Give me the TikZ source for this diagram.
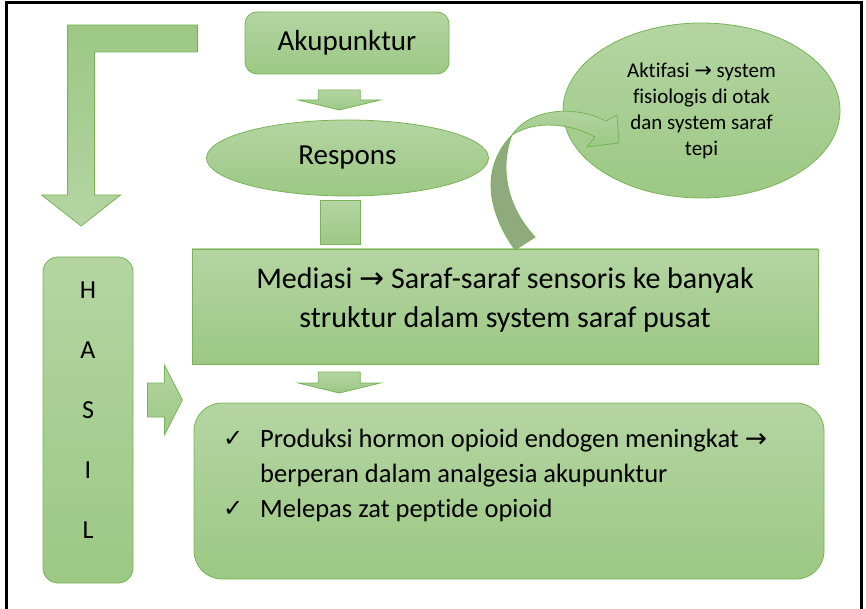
\documentclass[tikz,border=0pt]{standalone}
\usepackage{fontspec}
\setmainfont{Carlito}[Ligatures=NoCommon]
\newfontfamily\symfont{DejaVu Sans}
\usetikzlibrary{shapes.geometric,calc}

\definecolor{gtop}{HTML}{B4D5A2}
\definecolor{gbot}{HTML}{9CC884}
\definecolor{gline}{HTML}{78B456}
\definecolor{gdark}{HTML}{8FAB7E}

\tikzset{
  greenfill/.style={draw=gline, line width=0.8pt, top color=gtop, bottom color=gbot},
  greenflip/.style={draw=gline, line width=0.8pt, top color=gbot, bottom color=gtop},
  plaintext/.style={inner sep=0pt},
}
\newcommand{\rarr}{{\symfont →}}

\begin{document}
\begin{tikzpicture}[x=1pt,y=-1pt]
    \useasboundingbox (0,0) rectangle (866,609);

    % the frame round the page
    \draw[line width=3pt] (6,609) -- (6,3) -- (861,3) -- (861,609);

    % the boxes
    \node[greenfill, rounded corners=12pt, minimum width=204pt, minimum height=62pt,
          font=\fontsize{29}{35}\selectfont] (aku) at (347,43) {Akupunktur};
    \node[greenfill, ellipse, inner sep=0pt, minimum width=282pt, minimum height=76pt,
          font=\fontsize{29}{35}\selectfont] (resp) at (347.5,158) {Respons};
    \node[greenfill, ellipse, inner sep=0pt, minimum width=277pt, minimum height=175pt,
          align=center, font=\fontsize{21}{26}\selectfont] (akt) at (701.5,110.5)
          {Aktifasi \rarr{} system\\fisiologis di otak\\dan system saraf\\tepi};
    \node[greenfill, inner sep=0pt, minimum width=626pt, minimum height=115pt] (med) at (505,306.5) {};
    \node[plaintext, align=center, font=\fontsize{30}{39}\selectfont] (medtext) at (505,300)
          {Mediasi \rarr{} Saraf-saraf sensoris ke banyak\\struktur dalam system saraf pusat};
    \node[greenfill, rounded corners=15pt, inner sep=0pt, minimum width=90pt, minimum height=326pt] (hasil) at (88,420) {};
    \node[plaintext, align=center, font=\fontsize{26}{60}\selectfont] (hasiltext) at (88,410) {H\\A\\S\\I\\L};
    \node[greenfill, rounded corners=28pt, inner sep=0pt, minimum width=630pt, minimum height=176pt] (res) at (509,491) {};

    % the list in the result box
    \node[plaintext, anchor=base west, font=\symfont\fontsize{24}{28}\selectfont] (check1) at (223,446) {✓};
    \node[plaintext, anchor=base west, font=\fontsize{26.5}{32}\selectfont] (prod1) at (260,447)
          {Produksi hormon opioid endogen meningkat \rarr};
    \node[plaintext, anchor=base west, font=\fontsize{26.5}{32}\selectfont] (prod2) at (260,482)
          {berperan dalam analgesia akupunktur};
    \node[plaintext, anchor=base west, font=\symfont\fontsize{24}{28}\selectfont] (check2) at (223,516) {✓};
    \node[plaintext, anchor=base west, font=\fontsize{26.5}{32}\selectfont] (lepas) at (260,517)
          {Melepas zat peptide opioid};

    % block arrows between the boxes
    \coordinate (a1) at ($(aku.south)!0.5!(resp.north)$);
    \coordinate (m2) at ($(med.south)!0.5!(res.north)$);
    \coordinate (a2) at (a1 |- m2);
    \shade[greenfill] (a1) ++(-29,-7) -- ++(42,0) -- ++(0,10) -- ++(20,0) -- ++(-41,10)
          -- ++(-41,-10) -- ++(20,0) -- cycle;
    \shade[greenfill] (a2) ++(-29,-11.5) -- ++(42,0) -- ++(0,11) -- ++(20,0) -- ++(-41,10)
          -- ++(-41,-10) -- ++(20,0) -- cycle;
    \shade[greenfill] ($(resp.south)+(-27,4)$) rectangle ($(resp.south |- med.north)+(13,-4)$);

    \coordinate (a3) at ($(hasil.east)+(14,-20)$);
    \shade[greenfill] (a3) ++(0,-17) -- ++(17,0) -- ++(0,-18) -- ++(18,35) -- ++(-18,35)
          -- ++(0,-18) -- ++(-17,0) -- cycle;

    % bent arrow from the top down to HASIL
    \coordinate (lstart) at ($(aku.west)+(-47,-4.5)$);
    \shade[greenflip] (lstart) ++(0,-13.5) -- ++(-130,0) -- ++(0,170) -- ++(-26,0) -- ++(39.5,31)
          -- ++(39.5,-31) -- ++(-26,0) -- ++(0,-143) -- ++(103,0) -- cycle;

    % curved arrow from Mediasi to Aktifasi
    \filldraw[fill=gdark, draw=gline, line width=0.8pt] (515,250) .. controls (490,215) and (478,170) .. (512,135)
          .. controls (500,165) and (505,205) .. (535,237) -- cycle;
    \shade[greenfill] (512,135) .. controls (530,108) and (575,105) .. (606,121) -- (617,115) -- (619,143)
          -- (587,147) -- (595,137) .. controls (570,123) and (535,120) .. (512,135) -- cycle;
\end{tikzpicture}
\end{document}
